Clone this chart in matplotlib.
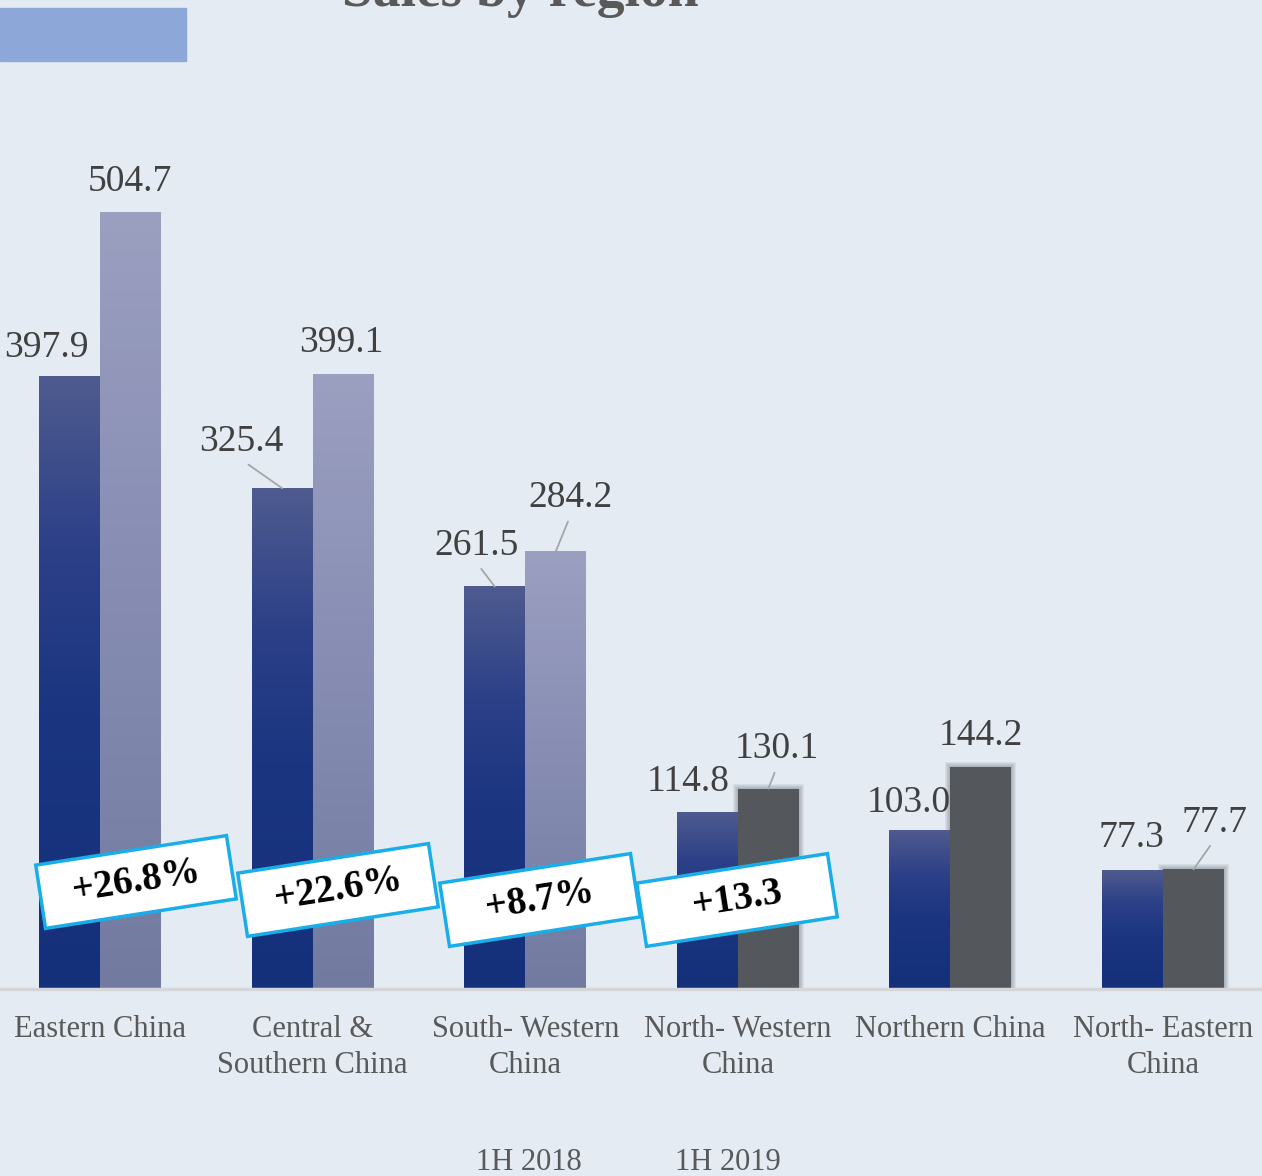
import numpy as np
import matplotlib
matplotlib.use("Agg")
import matplotlib.pyplot as plt
import matplotlib.transforms as mtransforms
from matplotlib.patches import Rectangle
from matplotlib.colors import LinearSegmentedColormap

plt.rcParams['font.family'] = ['Liberation Serif', 'DejaVu Serif']

# data
regions = ["Eastern China", "Central &\nSouthern China", "South- Western\nChina",
           "North- Western\nChina", "Northern China", "North- Eastern\nChina"]
sales_2018 = [397.9, 325.4, 261.5, 114.8, 103.0, 77.3]
sales_2019 = [504.7, 399.1, 284.2, 130.1, 144.2, 77.7]
series = ["1H 2018", "1H 2019"]
growth = ["+26.8%", "+22.6%", "+8.7%", "+13.3"]

# layout (pixels)
W, H = 1262, 1176
BASE = 989          # baseline y (from top)
PX_X = 212.6        # px per category
PX_Y = 1.539        # px per unit
X0 = 100            # centre of first category
bar_w = 61 / PX_X

# label offsets from bar top centre (px, image coords)
off_2018 = [(-23, -29), (-41, -46), (-18, -41), (-19, -31), (-11, -28), (-1, -32)]
off_2019 = [(-1, -31), (-2, -32), (15, -54), (9, -40), (0, -31), (21, -47)]
lead_2018 = [False, True, True, False, False, False]
lead_2019 = [False, False, True, True, False, True]
gray_2019 = [False, False, False, True, True, True]

box_centres = [(136, 882), (338, 890), (540, 900), (737, 900)]
box_w, box_h, box_ang = 193, 64, 8.8

bg = "#E4EBF2"
fig = plt.figure(figsize=(W / 100, H / 100), dpi=100, facecolor=bg)
ax = fig.add_axes([0, 0, 1, 1])
ax.set_facecolor(bg)
ax.axis("off")

cm_dark = LinearSegmentedColormap.from_list(
    "dark", [(0, "#15307A"), (0.45, "#1B3580"), (0.72, "#2C4088"), (1, "#4F5B8F")])
cm_light = LinearSegmentedColormap.from_list(
    "light", [(0, "#727AA0"), (0.6, "#8A90B5"), (1, "#9BA0C1")])
grad = np.linspace(0, 1, 256).reshape(-1, 1)

x = np.arange(len(regions))
b1 = ax.bar(x - bar_w / 2, sales_2018, bar_w, color="none", zorder=2)
b2 = ax.bar(x + bar_w / 2, sales_2019, bar_w, color="none", zorder=2)


def soft_shadow(r, color, n, step, alpha):
    for k in range(1, n + 1):
        dx = k * step / PX_X
        dy = k * step / PX_Y
        ax.add_patch(Rectangle((r.get_x() - dx, 0), r.get_width() + 2 * dx,
                               r.get_height() + dy, color=color, alpha=alpha,
                               lw=0, zorder=1))


for r in b1:
    ax.imshow(grad, extent=[r.get_x(), r.get_x() + r.get_width(), 0, r.get_height()],
              origin="lower", aspect="auto", cmap=cm_dark, zorder=2)

for r, g in zip(b2, gray_2019):
    if g:
        soft_shadow(r, "#5A5E62", 5, 1.0, 0.09)
        r.set_facecolor("#54585C")
    else:
        ax.imshow(grad, extent=[r.get_x(), r.get_x() + r.get_width(), 0, r.get_height()],
                  origin="lower", aspect="auto", cmap=cm_light, zorder=2)

ax.set_xlim(-X0 / PX_X, (W - X0) / PX_X)
ax.set_ylim(-(H - BASE) / PX_Y, BASE / PX_Y)
ax.axhline(0, color="#D4D6D9", lw=2.5, zorder=3)

# value labels
for bars, vals, offs, leads in [(b1, sales_2018, off_2018, lead_2018),
                                (b2, sales_2019, off_2019, lead_2019)]:
    for r, v, (dx, dy), ld in zip(bars, vals, offs, leads):
        kw = {}
        if ld:
            kw["arrowprops"] = dict(arrowstyle="-", color="#A6A6A6", lw=1.3,
                                    relpos=(0.5, 0), shrinkA=3, shrinkB=0)
        ax.annotate(f"{v:.1f}", xy=(r.get_x() + r.get_width() / 2, v),
                    xytext=(dx, -dy), textcoords="offset pixels",
                    ha="center", va="center", fontsize=27, color="#404040",
                    zorder=5, **kw)

# category labels
for i, lab in enumerate(regions):
    ax.text(i, -(1015 - BASE) / PX_Y, lab, ha="center", va="top", fontsize=22,
            color="#595959", linespacing=1.3)

# growth boxes
for (cx, cy), s in zip(box_centres, growth):
    cxi, cyi = cx / 100, (H - cy) / 100
    tr = mtransforms.Affine2D().rotate_deg_around(cxi, cyi, box_ang) + fig.dpi_scale_trans
    fig.add_artist(Rectangle((cxi - box_w / 200, cyi - box_h / 200), box_w / 100, box_h / 100,
                             transform=tr, facecolor="white", edgecolor="#1AAEE8", lw=2.5,
                             zorder=6))
    fig.text(cx / W, 1 - cy / H, s, rotation=box_ang, rotation_mode="anchor",
             ha="center", va="center", fontsize=28, fontweight="bold", color="black",
             zorder=7)

# legend texts
fig.text(529 / W, 1 - 1162 / H, series[0], ha="center", va="center", fontsize=22, color="#595959")
fig.text(728 / W, 1 - 1162 / H, series[1], ha="center", va="center", fontsize=22, color="#595959")

# title (cut off at top, as in the source) and blue tab
fig.text(520 / W, 1 - 6 / H, "Sales by region", ha="center", va="baseline",
         fontsize=40, fontweight="bold", color="#595959")
fig.add_artist(Rectangle((0, 1 - 61 / H), 186 / W, 53 / H, transform=fig.transFigure,
                         color="#8EA7D9", zorder=2))

fig.savefig("out.png", dpi=100, facecolor=bg)
